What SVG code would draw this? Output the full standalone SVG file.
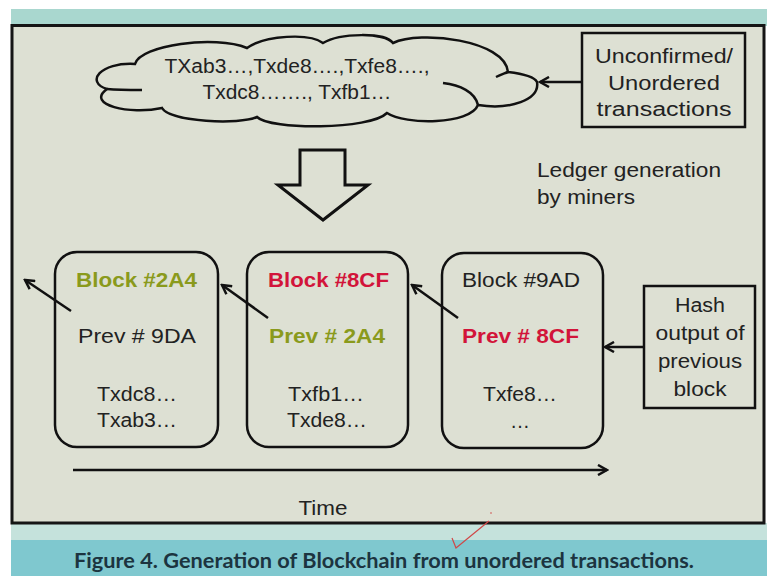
<svg xmlns="http://www.w3.org/2000/svg" width="767" height="576" viewBox="0 0 767 576">
<defs>
<style>
.t{font-family:"Liberation Sans",Arial,sans-serif;font-size:20px;fill:#222;text-anchor:middle}
.b{font-weight:bold}
.g{fill:#8a9a1c}
.r{fill:#d2143a}
.box{fill:none;stroke:#111;stroke-width:2.5}
.ln{fill:none;stroke:#111;stroke-width:2.5}
.cap{font-family:Lato,"Open Sans","Noto Sans",sans-serif;font-weight:bold;font-size:20px;fill:#1c3440}
</style>
<marker id="ah" markerWidth="12" markerHeight="12" refX="10" refY="6" orient="auto" markerUnits="userSpaceOnUse">
<path d="M1,1 L10,6 L1,11" fill="none" stroke="#111" stroke-width="2.5"/>
</marker>
</defs>
<rect x="0" y="0" width="767" height="576" fill="#ffffff"/>
<rect x="11" y="9" width="756" height="17" fill="#a9d7cf"/>
<rect x="11" y="523" width="756" height="18" fill="#c5e2dc"/>
<rect x="11" y="540" width="756" height="36" fill="#7fc8cf"/>
<rect x="12" y="25.5" width="752" height="497.5" fill="#dde0d3" stroke="#151515" stroke-width="3"/>

<g id="cloud">
<path class="ln" d="M107 89 C85 82,100 62,135 64 C140 45,215 35,247 48 C265 35,310 33,323 43 C340 33,385 32,393 43 C420 30,505 40,508 72 C525 74,535 78,537 82 C540 100,510 110,478 105 C470 125,405 125,387 113 C370 130,270 130,257 117 C240 125,170 122,162 108 C130 115,85 105,107 89 Z"/>
<path class="ln" d="M107 89 C118 90,130 90,142 90"/>
<path class="ln" d="M508 72 C503 74,500 75,496 77"/>
<path class="ln" d="M443 83 C460 85,475 92,478 105"/>
<text class="t" x="297" y="73" textLength="265" lengthAdjust="spacingAndGlyphs">TXab3…,Txde8….,Txfe8….,</text>
<text class="t" x="297" y="99" textLength="189" lengthAdjust="spacingAndGlyphs">Txdc8……., Txfb1…</text>
</g>

<g id="unconfirmed">
<rect class="box" x="582" y="33" width="163" height="94"/>
<text class="t" x="664" y="63" textLength="138" lengthAdjust="spacingAndGlyphs">Unconfirmed/</text>
<text class="t" x="664" y="90" textLength="112" lengthAdjust="spacingAndGlyphs">Unordered</text>
<text class="t" x="664" y="116" textLength="135" lengthAdjust="spacingAndGlyphs">transactions</text>
</g>

<g id="bigarrow">
<polygon points="300,150 345,150 345,185 368,185 323,220 278,185 300,185" fill="none" stroke="#111" stroke-width="3"/>
</g>

<g id="ledger">
<text class="t" x="537" y="177" style="text-anchor:start" textLength="184" lengthAdjust="spacingAndGlyphs">Ledger generation</text>
<text class="t" x="537" y="204" style="text-anchor:start" textLength="98" lengthAdjust="spacingAndGlyphs">by miners</text>
</g>

<g id="block1">
<rect class="box" x="55" y="252" width="163" height="195" rx="22"/>
<text class="t b g" x="136.5" y="287" textLength="121" lengthAdjust="spacingAndGlyphs">Block #2A4</text>
<text class="t" x="137" y="343" textLength="118" lengthAdjust="spacingAndGlyphs">Prev # 9DA</text>
<text class="t" x="137" y="401" textLength="80" lengthAdjust="spacingAndGlyphs">Txdc8…</text>
<text class="t" x="137" y="427" textLength="80" lengthAdjust="spacingAndGlyphs">Txab3…</text>
</g>

<g id="block2">
<rect class="box" x="247" y="252" width="161" height="195" rx="22"/>
<text class="t b r" x="328.5" y="287" textLength="121" lengthAdjust="spacingAndGlyphs">Block #8CF</text>
<text class="t b g" x="327" y="343" textLength="116" lengthAdjust="spacingAndGlyphs">Prev # 2A4</text>
<text class="t" x="326" y="401" textLength="76" lengthAdjust="spacingAndGlyphs">Txfb1…</text>
<text class="t" x="327" y="427" textLength="80" lengthAdjust="spacingAndGlyphs">Txde8…</text>
</g>

<g id="block3">
<rect class="box" x="442" y="253" width="161" height="195" rx="22"/>
<text class="t" x="521" y="287" textLength="118" lengthAdjust="spacingAndGlyphs">Block #9AD</text>
<text class="t b r" x="520.5" y="343" textLength="117" lengthAdjust="spacingAndGlyphs">Prev # 8CF</text>
<text class="t" x="520" y="401" textLength="74" lengthAdjust="spacingAndGlyphs">Txfe8…</text>
<text class="t" x="520" y="428">…</text>
</g>

<g id="hash">
<rect class="box" x="644" y="286" width="111" height="122"/>
<text class="t" x="700" y="312" textLength="50" lengthAdjust="spacingAndGlyphs">Hash</text>
<text class="t" x="700" y="340" textLength="89" lengthAdjust="spacingAndGlyphs">output of</text>
<text class="t" x="700" y="368" textLength="84" lengthAdjust="spacingAndGlyphs">previous</text>
<text class="t" x="700" y="396" textLength="53" lengthAdjust="spacingAndGlyphs">block</text>
</g>

<g id="connectors">
<line class="ln" x1="582" y1="82" x2="540" y2="82" marker-end="url(#ah)"/>
<line class="ln" x1="644" y1="347" x2="605" y2="347" marker-end="url(#ah)"/>
<line class="ln" x1="458" y1="318" x2="412" y2="285" marker-end="url(#ah)"/>
<line class="ln" x1="268" y1="318" x2="222" y2="285" marker-end="url(#ah)"/>
<line class="ln" x1="71" y1="311" x2="25" y2="280" marker-end="url(#ah)"/>
<line class="ln" x1="73" y1="470" x2="607" y2="470" marker-end="url(#ah)"/>
</g>

<text class="t" x="323" y="515" textLength="49" lengthAdjust="spacingAndGlyphs">Time</text>

<path d="M452 538 L456 548 L489 521" fill="none" stroke="#d04848" stroke-width="1.2"/>
<circle cx="491" cy="513" r="0.8" fill="#d04848"/>

<text class="cap" x="384" y="568" text-anchor="middle" textLength="620" lengthAdjust="spacingAndGlyphs">Figure 4. Generation of Blockchain from unordered transactions.</text>
</svg>
